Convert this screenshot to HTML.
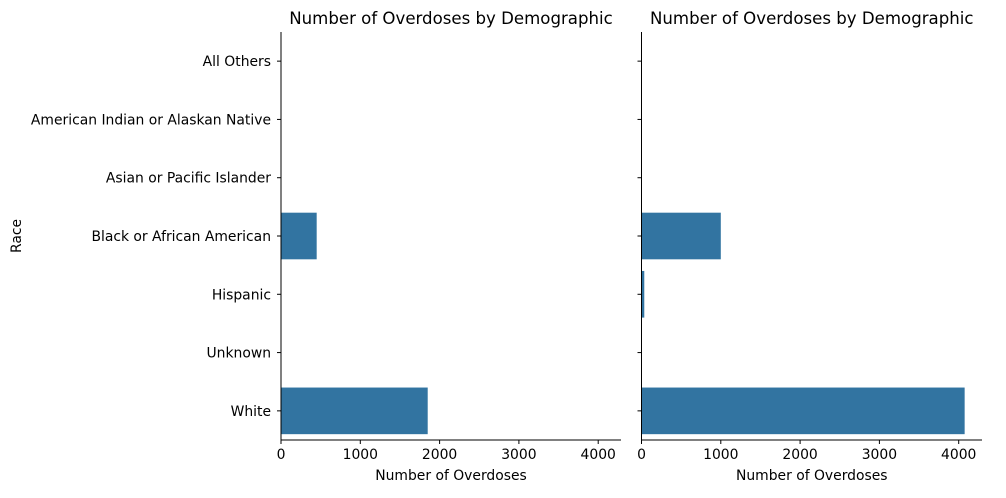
<!DOCTYPE html>
<html><head><meta charset="utf-8"><style>
body{margin:0;background:#fff;font-family:"Liberation Sans","DejaVu Sans",sans-serif;}
svg text{font-family:"DejaVu Sans","Liberation Sans",sans-serif;}
</style></head><body>
<svg id="c" width="1006" height="493" xmlns="http://www.w3.org/2000/svg"></svg>
<script>
const categories=["All Others","American Indian or Alaskan Native","Asian or Pacific Islander","Black or African American","Hispanic","Unknown","White"];
const leftValues=[0,0,0,450,0,0,1850];
const rightValues=[0,0,0,1000,35,0,4075];
const xTicks=[0,1000,2000,3000,4000];
const titleText="Number of Overdoses by Demographic";
const xLabel="Number of Overdoses";
const yLabel="Race";
(function(){
const NS="http://www.w3.org/2000/svg";
const svg=document.getElementById('c');
function mk(t,a,p){const e=document.createElementNS(NS,t);for(const k in a)e.setAttribute(k,a[k]);(p||svg).appendChild(e);return e;}
const plotTop=32,plotBottom=440,band=(plotBottom-plotTop)/categories.length;
const FS=13.9;
function yPos(i){return plotTop+band*(i+0.5);}
function drawPanel(x0,x1,values,showLabels,name){
  const g=mk('g',{});
  
  
  const xmax=(x1-x0)/79.3*1000;
  const xs=v=>x0+v/xmax*(x1-x0);
  values.forEach((v,i)=>{
    const r=mk('rect',{x:xs(0),y:yPos(i)-band*0.4,width:Math.max(0,xs(v)-xs(0)),height:band*0.8,fill:'#3274a1'},g);
    
    
  });
  const ya=mk('line',{x1:x0,x2:x0,y1:plotTop,y2:plotBottom,stroke:'#000','stroke-width':1},g);
  
  
  const xa=mk('line',{x1:x0,x2:x1,y1:plotBottom,y2:plotBottom,stroke:'#000','stroke-width':1},g);
  
  
  categories.forEach((c,i)=>{
    mk('line',{x1:x0-4,x2:x0,y1:yPos(i),y2:yPos(i),stroke:'#000'},g);
    if(showLabels){const t=mk('text',{x:x0-10,y:yPos(i)+5,'text-anchor':'end','font-size':FS},g);t.textContent=c;
      
      }
  });
  xTicks.forEach(v=>{
    mk('line',{x1:xs(v),x2:xs(v),y1:plotBottom,y2:plotBottom+4,stroke:'#000'},g);
    const t=mk('text',{x:xs(v),y:plotBottom+19,'text-anchor':'middle','font-size':FS},g);t.textContent=v;
    
    
  });
  const xl=mk('text',{x:(x0+x1)/2,y:480,'text-anchor':'middle','font-size':FS},g);xl.textContent=xLabel;
  
  
  const tt=mk('text',{x:(x0+x1)/2,y:24,'text-anchor':'middle','font-size':16.6},g);tt.textContent=titleText;
  
  
}
drawPanel(281,621,leftValues,true,'left-panel');
drawPanel(641.5,982,rightValues,false,'right-panel');
const yl=mk('text',{x:21,y:236,'text-anchor':'middle','font-size':FS,transform:'rotate(-90 21 236)'});
yl.textContent=yLabel;


})();
</script>
</body></html>
